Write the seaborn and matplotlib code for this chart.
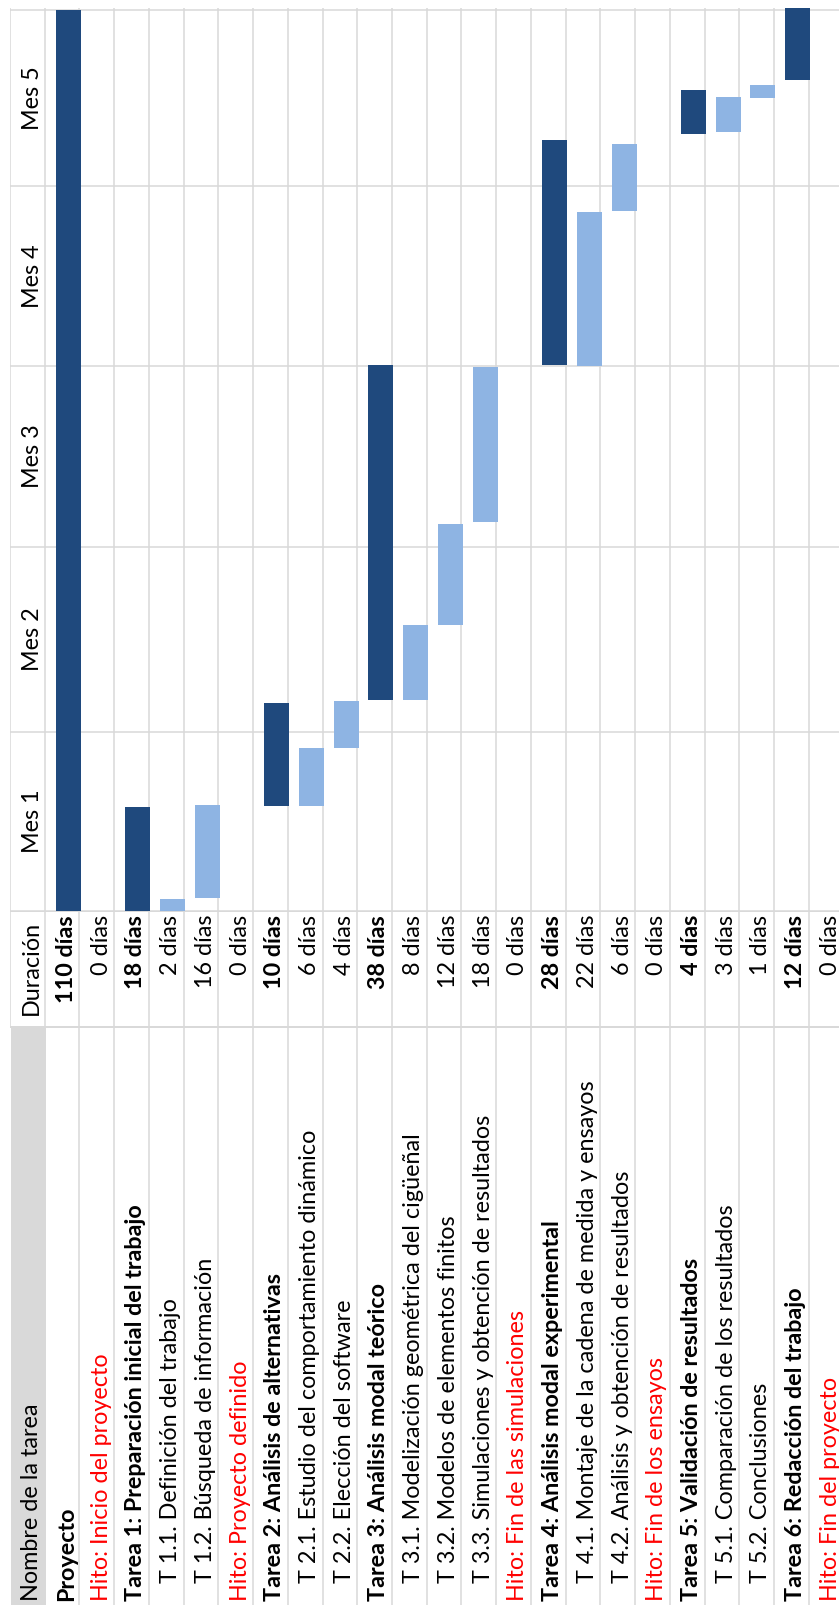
import numpy as np
import pandas as pd
import matplotlib
matplotlib.use("Agg")
import matplotlib.pyplot as plt
from matplotlib.patches import Rectangle
import seaborn as sns

# ---------------- data ----------------
tasks = [
    "Proyecto",
    "Hito: Inicio del proyecto",
    "Tarea 1: Preparación inicial del trabajo",
    "T 1.1. Definición del trabajo",
    "T 1.2. Búsqueda de información",
    "Hito: Proyecto definido",
    "Tarea 2: Análisis de alternativas",
    "T 2.1. Estudio del comportamiento dinámico",
    "T 2.2. Elección del software",
    "Tarea 3: Análisis modal teórico",
    "T 3.1. Modelización geométrica del cigüeñal",
    "T 3.2. Modelos de elementos finitos",
    "T 3.3. Simulaciones y obtención de resultados",
    "Hito: Fin de las simulaciones",
    "Tarea 4: Análisis modal experimental",
    "T 4.1. Montaje de la cadena de medida y ensayos",
    "T 4.2. Análisis y obtención de resultados",
    "Hito: Fin de los ensayos",
    "Tarea 5: Validación de resultados",
    "T 5.1. Comparación de los resultados",
    "T 5.2. Conclusiones",
    "Tarea 6: Redacción del trabajo",
    "Hito: Fin del proyecto",
]
kinds = ["summary", "milestone", "summary", "sub", "sub", "milestone",
         "summary", "sub", "sub", "summary", "sub", "sub", "sub", "milestone",
         "summary", "sub", "sub", "milestone", "summary", "sub", "sub",
         "summary", "milestone"]
durations = ["110 días", "0 días", "18 días", "2 días", "16 días", "0 días",
             "10 días", "6 días", "4 días", "38 días", "8 días", "12 días",
             "18 días", "0 días", "28 días", "22 días", "6 días", "0 días",
             "4 días", "3 días", "1 días", "12 días", "0 días"]
nan = np.nan
# bar start / end on the calendar axis (days from project start)
bar_start = [0.0, nan, 0.0, 0.0, 2.2, nan, 17.8, 17.8, 27.6, 35.8, 35.8, 48.5,
             65.9, nan, 92.6, 92.4, 118.7, nan, 131.7, 132.1, 137.8, 140.9, nan]
bar_end = [152.7, nan, 17.6, 2.0, 18.0, nan, 35.3, 27.6, 35.6, 92.5, 48.5, 65.6,
           92.2, nan, 130.7, 118.5, 130.0, nan, 139.2, 138.0, 140.0, 153.0, nan]
months = ["Mes 1", "Mes 2", "Mes 3", "Mes 4", "Mes 5"]
month_edges = [0.0, 30.3, 61.7, 92.4, 122.9, 152.7]

header_name = "Nombre de la tarea"
header_dur = "Duración"

# ---------------- style ----------------
sns.set_style("white")
plt.rcParams["font.family"] = ["Lato", "DejaVu Sans"]

DARK = "#1F497D"
LIGHT = "#8EB4E3"
GRID = "#D9D9D9"
RED = "#FF0000"
HEADER_BG = "#D9D9D9"
FS = 16.8
LW = 1.1

W, H = 839, 1605
fig = plt.figure(figsize=(W / 100, H / 100), dpi=100)

left_px, row_px = 10, 34.73
n = len(tasks)
xmax = -1 + (W - left_px) / row_px

gantt_bottom_px, gantt_top_px = 911, 8
px_per_day = 5.9
ax = fig.add_axes([left_px / W, (H - gantt_bottom_px) / H,
                   (W - left_px) / W, (gantt_bottom_px - gantt_top_px) / H])
ax_t = fig.add_axes([left_px / W, 0, (W - left_px) / W, (H - gantt_bottom_px) / H])

# ---------------- gantt ----------------
df = pd.DataFrame({"pos": np.arange(n) + 0.68, "kind": kinds,
                   "start": bar_start, "end": bar_end})
df["length"] = df["end"] - df["start"]
df = df.dropna()

for kind, col in [("summary", DARK), ("sub", LIGHT)]:
    sub = df[df["kind"] == kind].sort_values("pos")
    native = np.diff(np.unique(sub["pos"])).min()
    sns.barplot(x=sub["pos"].values, y=sub["length"].values, native_scale=True,
                width=0.72 / native, color=col, saturation=1, errorbar=None,
                bottom=sub["start"].values, linewidth=0, zorder=3, ax=ax)

for xv in range(-1, n):
    ax.axvline(xv, color=GRID, lw=LW, zorder=1)
for e in month_edges:
    ax.axhline(e, color=GRID, lw=LW, zorder=1)

for i, m in enumerate(months):
    mid = (month_edges[i] + month_edges[i + 1]) / 2
    ax.text(-0.5 + 0.33, mid, m, rotation=90, rotation_mode="anchor",
            ha="center", va="baseline", fontsize=FS, color="black")

ax.set_xlim(-1, xmax)
ax.set_ylim(0, (gantt_bottom_px - gantt_top_px) / px_per_day)
ax.set_xlabel("")
ax.set_ylabel("")
ax.set_xticks([])
ax.set_yticks([])
for s in ax.spines.values():
    s.set_visible(False)

# ---------------- table ----------------
ax_t.set_xlim(-1, xmax)
ax_t.set_ylim(H, gantt_bottom_px)
ax_t.axis("off")

sep_px = 1027
ax_t.add_patch(Rectangle((-0.97, sep_px), 1.0, H - sep_px, facecolor=HEADER_BG,
                         edgecolor="none", zorder=0))
for xv in range(0, n):
    ax_t.axvline(xv, color=GRID, lw=LW, zorder=1)
ax_t.plot([-1, -1], [gantt_bottom_px, sep_px], color=GRID, lw=LW, zorder=1)
for yv in [gantt_bottom_px + 0.5, sep_px]:
    ax_t.axhline(yv, color=GRID, lw=LW * 1.3, zorder=1)

off = 0.31
ax_t.text(-0.5 + off, 968, header_dur, rotation=90, rotation_mode="anchor",
          ha="center", va="baseline", fontsize=FS, color="black")
ax_t.text(-0.5 + off, 1601, header_name, rotation=90, rotation_mode="anchor",
          ha="left", va="baseline", fontsize=FS, color="black")

for i, (t, k, d) in enumerate(zip(tasks, kinds, durations)):
    xc = i + 0.5 + off
    bold = k == "summary"
    color = RED if k == "milestone" else "black"
    ystart = 1583 if k == "sub" else 1601
    ax_t.text(xc, ystart, t, rotation=90, rotation_mode="anchor", ha="left",
              va="baseline", fontsize=FS, color=color,
              fontweight="bold" if bold else "normal")
    ax_t.text(xc, 915, d, rotation=90, rotation_mode="anchor", ha="right",
              va="baseline", fontsize=FS, color="black",
              fontweight="bold" if bold else "normal")

fig.savefig("out.png", dpi=100)
